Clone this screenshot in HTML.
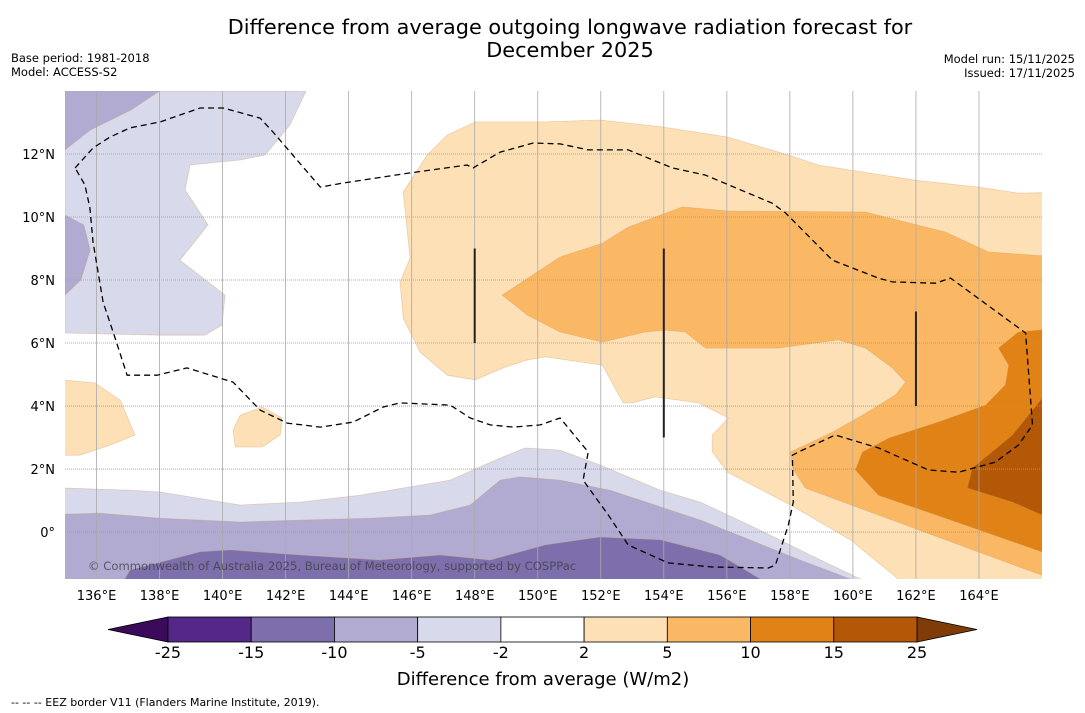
<!DOCTYPE html>
<html><head><meta charset="utf-8">
<style>
body{margin:0;background:#fff;width:1085px;height:713px;overflow:hidden;font-family:"DejaVu Sans","Liberation Sans",sans-serif;}
svg{display:block;font-family:"DejaVu Sans","Liberation Sans",sans-serif;}
</style></head>
<body>
<svg id="c" width="1085" height="713" viewBox="0 0 1085 713">
<text x="570" y="34" text-anchor="middle" font-size="20.8">Difference from average outgoing longwave radiation forecast for</text>
<text x="570" y="57" text-anchor="middle" font-size="20.8">December 2025</text>
<text x="11" y="62" font-size="11.5">Base period: 1981-2018</text>
<text x="11" y="76" font-size="11.5">Model: ACCESS-S2</text>
<text x="1075" y="63" font-size="11.5" text-anchor="end">Model run: 15/11/2025</text>
<text x="1075" y="77" font-size="11.5" text-anchor="end">Issued: 17/11/2025</text>
<defs><clipPath id="mapclip"><rect x="65" y="91" width="977" height="488"/></clipPath></defs>
<g id="map" clip-path="url(#mapclip)"></g>
<g id="axes"></g>
<g id="cbar"></g>
<text x="543" y="685" text-anchor="middle" font-size="18">Difference from average (W/m2)</text>
<text x="11" y="706" font-size="11">--  --  -- EEZ border V11 (Flanders Marine Institute, 2019).</text>
</svg>
<script>
const lonTicks=[136,138,140,142,144,146,148,150,152,154,156,158,160,162,164];
const latTicks=[0,2,4,6,8,10,12];
const levels=[-25,-15,-10,-5,-2,2,5,10,15,25];
const levelColors=["#542788","#7d6fab","#b1abd2","#d8d9ea","#ffffff","#fde0b6","#fbb864","#e08215","#b35807"];
const lowExtColor="#3c0a5a", highExtColor="#7f3b08";
const lightPurpleTop=[[135,14],[142.65,14],[142.14,12.92],[141.35,11.97],[140.56,11.81],[138.97,11.65],[138.81,10.86],[139.54,9.75],[138.65,8.63],[140.08,7.52],[139.98,6.57],[139.44,6.25],[138.02,6.25],[135,6.32]];
const medPurpleTop=[[135,14],[138.0,14],[137.1,13.4],[135.8,12.76],[135,12.13]];
const medPurpleLeft=[[135,10.06],[135.6,9.75],[135.8,8.95],[135.5,8.0],[135,7.52]];
const lightOrangeLeft=[[134,4.92],[135.95,4.73],[136.75,4.19],[137.22,3.08],[136.43,2.76],[135.48,2.44],[134,2.44]];
const lightOrangeSmall=[[140.56,3.71],[141.25,3.97],[141.89,3.62],[141.83,3.08],[141.25,2.7],[140.4,2.7],[140.33,3.24]];
const lightOrangeBig=[[148.02,13.02],[150.24,13.02],[151.98,13.08],[153.95,12.86],[156.02,12.54],[157.95,11.97],[158.9,11.65],[161.98,11.17],[163.98,10.95],[165.25,10.76],[167,10.79],[167,-2],[161.6,-2],[161.44,-1.49],[159.92,-0.25],[158.02,0.86],[156.02,1.9],[155.54,2.54],[155.54,3.08],[156.05,3.62],[155.1,4.1],[153.73,4.29],[153.0,4.1],[152.71,4.1],[152.52,4.44],[152.05,5.3],[150.24,5.56],[149.67,5.46],[148.9,5.21],[148.02,4.83],[147.13,4.98],[146.27,5.71],[145.73,6.79],[145.63,7.94],[145.95,8.7],[145.73,10.79],[146.49,11.97],[147.13,12.6]];
const medOrange=[[148.87,7.52],[150.71,8.73],[152.05,9.17],[152.87,9.68],[154.59,10.32],[156.05,10.19],[160.4,10.16],[162.94,9.52],[164.3,8.89],[167,8.7],[167,-1.4],[166,-1.37],[163.98,-0.63],[160.81,0.54],[158.49,1.4],[158.08,2.03],[158.02,2.54],[159.35,3.17],[160.3,3.71],[161.35,4.35],[161.67,4.76],[161.25,5.21],[160.4,5.84],[159.54,6.1],[157.63,5.84],[155.32,5.84],[154.68,6.35],[154.05,6.41],[153.41,6.35],[152.05,6.03],[150.71,6.35],[149.67,6.89]];
const darkOrange=[[167,6.51],[165.25,6.35],[164.62,5.84],[164.94,5.3],[164.84,4.67],[164.21,4.03],[162.71,3.49],[161.13,2.98],[160.3,2.54],[160.08,1.97],[160.81,1.17],[162.94,0.44],[166,-0.63],[167,-0.65]];
const darkestOrange=[[167,4.25],[166,4.25],[165.06,3.08],[163.79,2.03],[163.63,1.4],[165.06,0.95],[166,0.54],[167,0.54]];
const lightPurpleBottom=[[134,1.43],[137.06,1.33],[138.02,1.27],[140.56,0.86],[142.46,0.95],[144.37,1.17],[147.22,1.65],[148.81,2.35],[149.6,2.67],[150.71,2.6],[151.98,2.13],[153.89,1.33],[155.16,0.95],[157.06,0.06],[158.65,-0.73],[160.24,-1.49],[160.5,-2],[134,-2]];
const medPurpleBottom=[[134,0.54],[136.11,0.6],[138.02,0.44],[140.56,0.32],[142.46,0.38],[144.68,0.44],[146.59,0.54],[147.86,0.86],[148.81,1.65],[149.44,1.75],[150.71,1.65],[152.3,1.33],[155.16,0.38],[158.33,-0.89],[159.92,-1.49],[160.2,-2],[134,-2]];
const darkPurpleBottom=[[136.8,-2],[136.9,-1.49],[137.06,-1.21],[139.29,-0.63],[140.24,-0.57],[142.46,-0.73],[145,-0.89],[146.9,-0.73],[148.49,-0.89],[150.24,-0.41],[151.98,-0.16],[153.89,-0.25],[155.79,-0.73],[157.06,-1.49],[157.3,-2]];
const eezLoop=[[135.32,11.56],[135.89,12.19],[136.43,12.54],[137.06,12.83],[138.02,13.02],[139.29,13.46],[140.02,13.46],[141.19,13.14],[141.6,12.7],[143.1,10.95],[143.83,11.08],[145.95,11.4],[147.76,11.65],[147.95,11.56],[148.81,12.06],[149.86,12.35],[150.71,12.32],[151.6,12.13],[152.87,12.13],[154.27,11.56],[155.32,11.33],[157.44,10.44],[157.86,10.13],[159.35,8.63],[160.81,8.06],[161.25,7.94],[162.62,7.9],[163.1,8.06],[165.48,6.32],[165.7,3.4],[165.25,2.76],[164.52,2.22],[163.35,1.9],[162.4,1.97],[160.81,2.67],[159.44,3.08],[158.27,2.54],[158.08,2.44],[158.11,0.95],[157.95,0.22],[157.54,-1.05],[157.32,-1.14],[155.54,-1.11],[154.14,-0.98],[152.87,-0.41],[152.24,0.54],[151.44,1.65],[151.6,2.54],[150.71,3.62],[150.08,3.4],[149.22,3.33],[148.49,3.4],[147.86,3.62],[147.22,4.03],[145.63,4.1],[145.1,3.97],[144.14,3.49],[143.1,3.33],[142.05,3.46],[141.19,3.87],[140.33,4.76],[138.87,5.21],[137.92,4.98],[136.97,4.98],[136.59,6.16],[136.21,7.3],[135.89,9.21],[135.79,10.29],[135.63,11.02]];
const boundaryLines=[[148,9,6],[154,9,3],[162,7,4]];

const NS="http://www.w3.org/2000/svg";
const X0=65,X1=1042,Y0=91,Y1=579,LON0=135,LON1=166,LAT0=14,LAT1=-1.49;
const xs=lon=>X0+(lon-LON0)/(LON1-LON0)*(X1-X0);
const ys=lat=>Y0+(LAT0-lat)/(LAT0-LAT1)*(Y1-Y0);
function mk(t,a,p){const e=document.createElementNS(NS,t);for(const k in a)e.setAttribute(k,a[k]);p.appendChild(e);return e;}
const map=document.getElementById('map');
function poly(pts,fill,name){
  const e=mk('polygon',{points:pts.map(p=>xs(p[0]).toFixed(1)+','+ys(p[1]).toFixed(1)).join(' '),fill:fill,stroke:fill==='#ffffff'?'none':'rgba(200,150,90,0.35)','stroke-width':0.8},map);
  
  
}
poly(lightPurpleTop,levelColors[3],'contour-minus5-top');
poly(medPurpleTop,levelColors[2],'contour-minus10-top');
poly(medPurpleLeft,levelColors[2],'contour-minus10-left');
poly(lightPurpleBottom,levelColors[3],'contour-minus5-bottom');
poly(medPurpleBottom,levelColors[2],'contour-minus10-bottom');
poly(darkPurpleBottom,levelColors[1],'contour-minus15-bottom');
poly(lightOrangeLeft,levelColors[5],'contour-plus2-left');
poly(lightOrangeSmall,levelColors[5],'contour-plus2-small');
poly(lightOrangeBig,levelColors[5],'contour-plus2-main');
poly(medOrange,levelColors[6],'contour-plus5');
poly(darkOrange,levelColors[7],'contour-plus10');
poly(darkestOrange,levelColors[8],'contour-plus15');
lonTicks.forEach(l=>{const e=mk('line',{x1:xs(l),x2:xs(l),y1:Y0,y2:Y1,stroke:'#aaa','stroke-width':0.8},map);

});
latTicks.forEach(l=>{const e=mk('line',{x1:X0,x2:X1,y1:ys(l),y2:ys(l),stroke:'#999','stroke-width':0.8,'stroke-dasharray':'1,1'},map);

});
const eez=mk('polygon',{points:eezLoop.map(p=>xs(p[0]).toFixed(1)+','+ys(p[1]).toFixed(1)).join(' '),fill:'none',stroke:'#000','stroke-width':1.3,'stroke-dasharray':'6,4'},map);


boundaryLines.forEach(b=>{const e=mk('line',{x1:xs(b[0]),x2:xs(b[0]),y1:ys(b[1]),y2:ys(b[2]),stroke:'#222','stroke-width':2},map);

});
const cp=mk('text',{x:88,y:570,'font-size':11.6,fill:'rgba(60,60,60,0.75)'},map);cp.textContent='© Commonwealth of Australia 2025, Bureau of Meteorology, supported by COSPPac';


const axes=document.getElementById('axes');
lonTicks.forEach(l=>{const t=mk('text',{x:xs(l),y:600,'font-size':13,'text-anchor':'middle'},axes);t.textContent=l+'°E';

});
latTicks.forEach(l=>{const t=mk('text',{x:55,y:ys(l)+5,'font-size':13,'text-anchor':'end'},axes);t.textContent=l===0?'0°':l+'°N';

});
const cb=document.getElementById('cbar');
const CB0=168,CB1=917,CBY=617,CBH=25,bw=(CB1-CB0)/levelColors.length;
const lt=mk('polygon',{points:`${CB0},${CBY} ${CB0},${CBY+CBH} 108,${CBY+CBH/2}`,fill:lowExtColor,stroke:'#000','stroke-width':0.8},cb);


const rt=mk('polygon',{points:`${CB1},${CBY} ${CB1},${CBY+CBH} 977,${CBY+CBH/2}`,fill:highExtColor,stroke:'#000','stroke-width':0.8},cb);


levelColors.forEach((c,i)=>{const r=mk('rect',{x:CB0+i*bw,y:CBY,width:bw,height:CBH,fill:c,stroke:'#000','stroke-width':0.8},cb);

});
levels.forEach((v,i)=>{const t=mk('text',{x:CB0+i*bw,y:658,'font-size':16,'text-anchor':'middle'},cb);t.textContent=v;

});
</script>
</body></html>
